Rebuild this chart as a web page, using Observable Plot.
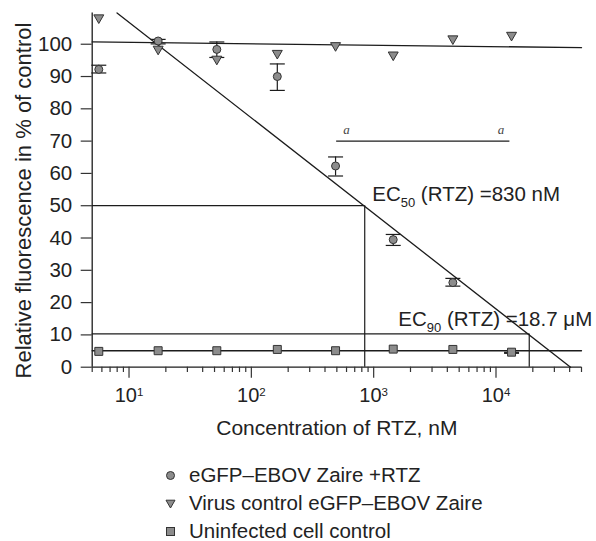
<!DOCTYPE html>
<html><head><meta charset="utf-8">
<script src="https://cdn.jsdelivr.net/npm/d3@7"></script>
<script src="https://cdn.jsdelivr.net/npm/@observablehq/plot@0.6"></script>
<style>
html,body{margin:0;padding:0;background:#fff;}
#wrap{position:relative;width:596px;height:541px;font-family:"Liberation Sans",Arial,sans-serif;}
#wrap > svg{display:block;}
#legend{position:absolute;left:164px;top:461px;font-size:20.5px;color:#222;}
.row{height:28px;display:flex;align-items:center;white-space:nowrap;}
.row svg{margin-right:12px;flex:none;}
</style></head><body><div id="wrap"><div id="legend"></div></div>
<script>
// ---------- data ----------
const conc = [5.66, 17.3, 52.2, 163, 488, 1445, 4440, 13400];          // nM
const rtzMean = [92.2, 101.0, 98.4, 90.0, 62.3, 39.5, 26.2];            // eGFP-EBOV Zaire + RTZ
const rtzLow  = [91.1, 100.1, 95.9, 85.7, 59.2, 37.7, 25.1];
const rtzHigh = [93.5, 101.5, 100.7, 93.9, 65.1, 41.1, 27.5];
const virusMean = [108.2, 98.5, 95.4, 97.2, 99.6, 96.7, 101.7, 102.8];  // virus control
const cellMean = [4.9, 5.1, 5.1, 5.5, 5.1, 5.6, 5.5, 4.65];             // uninfected
const cellErrX = [13400], cellErrLow = [4.3], cellErrHigh = [4.6];

const rtzFitX = [7.98, 40700], rtzFitY = [109.7, 0];
const virusFitX = [5, 50000], virusFitY = [100.7, 98.95];
const cellFitX = [5, 50000], cellFitY = [5.1, 5.1];

const ec50X = 845, ec50Y = 50;
const ec90X = 18700, ec90Y = 10.3;
const ecLabels = ["EC_50 (RTZ) =830 nM", "EC_90 (RTZ) =18.7 μM"];
const ecLabelX = [973, 1589], ecLabelY = [53.4, 14.75];

const sigX = [498, 12990], sigY = 70;
const sigLabelX = [600, 10965], sigLabelY = 73.6, sigLabel = "a";

const xDomain = [5, 50000], yDomain = [0, 109.7];
const xTickValues = [10, 100, 1000, 10000];
const xTickLabels = ["10^1", "10^2", "10^3", "10^4"];
const xMinorTicks = [5,6,7,8,9,20,30,40,50,60,70,80,90,200,300,400,500,600,700,800,900,
  2000,3000,4000,5000,6000,7000,8000,9000,20000,30000,40000,50000];
const yTickValues = [0,10,20,30,40,50,60,70,80,90,100];
const yTickLabels = ["0","10","20","30","40","50","60","70","80","90","100"];
const xLabel = "Concentration of RTZ, nM";
const yLabel = "Relative fluorescence in % of control";
const legendLabels = ["eGFP–EBOV Zaire +RTZ", "Virus control eGFP–EBOV Zaire", "Uninfected cell control"];

// ---------- tables ----------
const rtzRows = rtzMean.map((y, i) => ({x: conc[i], y, lo: rtzLow[i], hi: rtzHigh[i]}));
const virusRows = virusMean.map((y, i) => ({x: conc[i], y}));
const cellRows = cellMean.map((y, i) => ({x: conc[i], y}));
const cellErrRows = cellErrX.map((x, i) => ({x, lo: cellErrLow[i], hi: cellErrHigh[i]}));
const fit = (X, Y) => X.map((x, i) => ({x, y: Y[i]}));

// ---------- symbols ----------
const triDown = {draw(ctx, size) {
  const y = -Math.sqrt(size / (Math.sqrt(3) * 3));
  ctx.moveTo(0, -2 * y); ctx.lineTo(-Math.sqrt(3) * y, y); ctx.lineTo(Math.sqrt(3) * y, y); ctx.closePath();
}};
const cap = {draw(ctx) { ctx.moveTo(-7.5, 0); ctx.lineTo(7.5, 0); }};

const INK = "#1c1c1c", FILL = "#8c8c8c", MSTROKE = "#333";
const H = 450, yZero = 366.7;

const svg = Plot.plot({
  width: 596, height: H,
  marginLeft: 91.7, marginRight: 15, marginTop: 12.4, marginBottom: H - yZero,
  style: {fontFamily: '"Liberation Sans", Arial, sans-serif', background: "#fff", color: "#222"},
  x: {type: "log", domain: xDomain},
  y: {domain: yDomain},
  marks: [
    // axes lines
    Plot.ruleY([0], {x1: xDomain[0], x2: xDomain[1], stroke: INK, strokeWidth: 1.3}),
    Plot.ruleX([xDomain[0]], {y1: yDomain[0], y2: yDomain[1], stroke: INK, strokeWidth: 1.3}),
    Plot.axisX({ticks: xMinorTicks, tickSize: 5.3, tickFormat: () => "", label: null, stroke: "#333", strokeWidth: 1.2}),
    Plot.axisX({ticks: xTickValues, tickSize: 11, tickPadding: 10, label: null, fontSize: 20, stroke: "#333", strokeWidth: 1.2, fill: "#222",
      tickFormat: d => xTickLabels[xTickValues.indexOf(d)]}),
    Plot.axisY({ticks: yTickValues, tickSize: 11, tickPadding: 9, label: null, fontSize: 20.5, stroke: "#333", strokeWidth: 1.2, fill: "#222",
      tickFormat: d => yTickLabels[yTickValues.indexOf(d)]}),
    // guide lines
    Plot.ruleY([ec50Y], {x1: xDomain[0], x2: ec50X, stroke: INK, strokeWidth: 1.2}),
    Plot.ruleX([ec50X], {y1: 0, y2: ec50Y, stroke: INK, strokeWidth: 1.2}),
    Plot.ruleY([ec90Y], {x1: xDomain[0], x2: ec90X, stroke: INK, strokeWidth: 1.2}),
    Plot.ruleX([ec90X], {y1: 0, y2: ec90Y, stroke: INK, strokeWidth: 1.2}),
    // fitted lines
    Plot.line(fit(rtzFitX, rtzFitY), {x: "x", y: "y", stroke: INK, strokeWidth: 1.3}),
    Plot.line(fit(virusFitX, virusFitY), {x: "x", y: "y", stroke: INK, strokeWidth: 1.3}),
    Plot.line(fit(cellFitX, cellFitY), {x: "x", y: "y", stroke: INK, strokeWidth: 1.3}),
    // significance bracket
    Plot.ruleY([sigY], {x1: sigX[0], x2: sigX[1], stroke: INK, strokeWidth: 1.2}),
    Plot.text(sigLabelX, {x: d => d, y: sigLabelY, text: () => sigLabel, fontFamily: '"Liberation Serif", serif', fontStyle: "italic", fontSize: 13, fill: "#444"}),
    // error bars
    Plot.ruleX(rtzRows, {x: "x", y1: "lo", y2: "hi", stroke: INK, strokeWidth: 1.2}),
    Plot.dot(rtzRows, {x: "x", y: "lo", symbol: cap, stroke: INK, strokeWidth: 1.2, fill: "none"}),
    Plot.dot(rtzRows, {x: "x", y: "hi", symbol: cap, stroke: INK, strokeWidth: 1.2, fill: "none"}),
    Plot.dot(cellErrRows, {x: "x", y: "lo", symbol: cap, stroke: INK, strokeWidth: 1.2, fill: "none"}),
    Plot.dot(cellErrRows, {x: "x", y: "hi", symbol: cap, stroke: INK, strokeWidth: 1.2, fill: "none"}),
    // points
    Plot.dot(virusRows, {x: "x", y: "y", symbol: triDown, r: 3.7, fill: FILL, stroke: MSTROKE, strokeWidth: 1}),
    Plot.dot(cellRows, {x: "x", y: "y", symbol: "square", r: 4.5, fill: FILL, stroke: MSTROKE, strokeWidth: 1}),
    Plot.dot(rtzRows, {x: "x", y: "y", symbol: "circle", r: 4, fill: FILL, stroke: MSTROKE, strokeWidth: 1}),
    // annotations
    Plot.text(ecLabels, {x: (d, i) => ecLabelX[i], y: (d, i) => ecLabelY[i], text: d => d, textAnchor: "start", fontSize: 20.5, fill: "#222"}),
    Plot.text([xLabel], {frameAnchor: "bottom", lineAnchor: "top", textAnchor: "middle", dy: 53.3, fontSize: 21, fill: "#222"}),
    Plot.text([yLabel], {frameAnchor: "left", textAnchor: "middle", lineAnchor: "middle", rotate: -90, dx: -68, dy: 10.5, fontSize: 22, fill: "#222"})
  ]
});

// turn "^n" / "_n" into real super/subscript tspans
function richText(root) {
  const ns = "http://www.w3.org/2000/svg";
  root.querySelectorAll("text").forEach(t => {
    const targets = t.querySelector("tspan") ? [...t.querySelectorAll("tspan")] : [t];
    targets.forEach(n => {
      const m = n.textContent.match(/^(.*?)([\^_])(\d+)(.*)$/);
      if (!m) return;
      const [, pre, kind, script, post] = m;
      n.textContent = "";
      const add = (txt, attrs) => { const e = document.createElementNS(ns, "tspan"); e.textContent = txt;
        for (const k in attrs) e.setAttribute(k, attrs[k]); n.appendChild(e); };
      const shift = kind === "^" ? -6 : 6;
      add(pre, {});
      add(script, {dy: shift, "font-size": kind === "^" ? 11.5 : 13});
      if (post) add(post, {dy: -shift});
    });
  });
}
richText(svg);
document.getElementById("wrap").prepend(svg);

// legend
const legend = d3.select("#legend");
const sw = [
  g => g.append("circle").attr("cx", 6.5).attr("cy", 6.5).attr("r", 4),
  g => g.append("path").attr("d", "M2,3.2L11,3.2L6.5,11Z"),
  g => g.append("rect").attr("x", 2.5).attr("y", 2.5).attr("width", 8).attr("height", 8)
];
legendLabels.forEach((lab, i) => {
  const row = legend.append("div").attr("class", "row");
  const s = row.append("svg").attr("width", 13).attr("height", 13);
  sw[i](s).attr("fill", FILL).attr("stroke", MSTROKE).attr("stroke-width", 1);
  row.append("span").text(lab);
});
</script></body></html>
